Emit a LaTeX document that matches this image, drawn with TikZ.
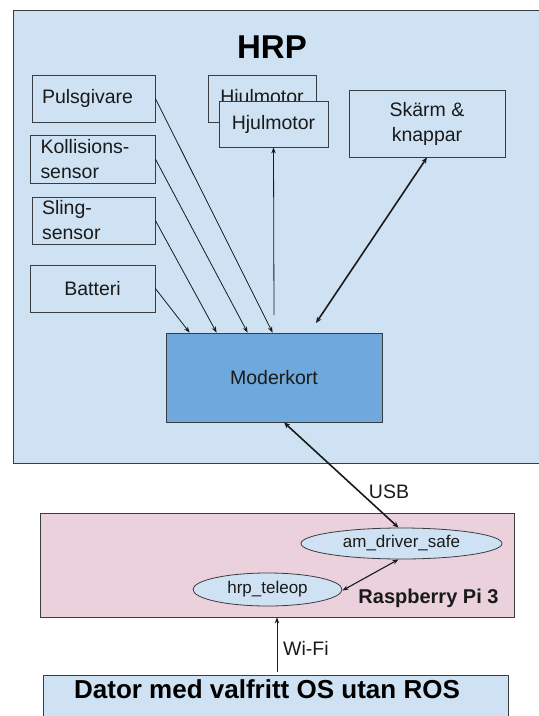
\documentclass[tikz,border=0pt]{standalone}
\usepackage{fontspec}
\setmainfont{Liberation Sans}
\usetikzlibrary{arrows.meta,shapes.geometric}

\definecolor{hrpblue}{HTML}{CFE2F3}
\definecolor{modblue}{HTML}{6FA8DC}
\definecolor{rpipink}{HTML}{EAD1DC}
\definecolor{edgegray}{HTML}{3A3D40}
\definecolor{inkdark}{HTML}{1A1A1A}

\tikzset{
  partbox/.style={draw=edgegray, fill=hrpblue, line width=0.8pt, inner ysep=0pt,
    text=inkdark, font=\fontsize{19.5}{25}\selectfont},
  leftbox/.style={partbox, align=left, inner xsep=10pt},
  midbox/.style={partbox, align=center, inner xsep=0pt},
  rosnode/.style={ellipse, draw=edgegray, fill=hrpblue, line width=0.8pt, inner sep=0pt,
    text=inkdark, font=\fontsize{17}{20}\selectfont},
  arr/.style={draw=inkdark, line width=0.8pt, -{Stealth[length=6pt,width=4.5pt]}},
  biarr/.style={draw=inkdark, line width=1.6pt, {Stealth[length=6pt,width=5pt]}-{Stealth[length=6pt,width=5pt]}},
  biarrthin/.style={draw=inkdark, line width=1.1pt, {Stealth[length=6pt,width=4.5pt]}-{Stealth[length=6pt,width=4.5pt]}},
  lbl/.style={text=inkdark, font=\fontsize{19.5}{25}\selectfont, inner sep=0pt}
}

\begin{document}
\begin{tikzpicture}[x=1pt,y=-1pt]
\clip (0,0) rectangle (539,716);
\fill[white] (0,0) rectangle (539,716);

% robot enclosure
\node[draw=edgegray, fill=hrpblue, line width=0.9pt, minimum width=540pt, minimum height=453pt,
      inner sep=0pt] (hrp) at (283,236.5) {};
\node[text=black, font=\fontsize{33}{36}\selectfont\bfseries, inner sep=0pt] (hrptitle) at (272,47) {HRP};

% sensors and actuators
\node[leftbox, text width=103pt, minimum height=47pt] (puls) at (93.5,98.5) {Pulsgivare};
\node[leftbox, text width=104pt, minimum height=48pt, inner xsep=10.5pt] (koll) at (92.5,159) {Kollisions-\\sensor};
\node[leftbox, text width=103pt, minimum height=47pt] (sling) at (93.5,220.5) {Sling-\\sensor};
\node[midbox, minimum width=125pt, minimum height=47pt] (batt) at (92.5,288.5) {Batteri};
\node[midbox, minimum width=108pt, minimum height=47pt] (hjulB) at (262,98.5) {Hjulmotor};
\node[midbox, minimum width=109pt, minimum height=46pt] (hjulF) at (273.5,124) {Hjulmotor};
\node[midbox, minimum width=156pt, minimum height=67pt] (skarm) at (427,123.5) {Skärm \&\\knappar};

% main board
\node[partbox, fill=modblue, minimum width=216pt, minimum height=89pt, inner xsep=0pt] (mod) at (274,377.5) {Moderkort};

% connections to the main board
\draw[arr] (batt.east) -- ([xshift=24pt]mod.north west);
\draw[arr] (sling.east) -- ([xshift=51pt]mod.north west);
\draw[arr] (koll.east) -- ([xshift=82pt]mod.north west);
\draw[arr] (puls.east) -- ([xshift=107pt]mod.north west);
\coordinate (hjulfoot) at (274,315);
\draw[arr] (hjulfoot) -- (hjulF.south);
\coordinate (skarmend) at (316,323);
\draw[biarr] (skarm.south) -- (skarmend);

% Raspberry Pi
\node[draw=edgegray, fill=rpipink, line width=0.8pt, minimum width=474pt, minimum height=104pt,
      inner sep=0pt] (rpi) at (277,565) {};
\node[rosnode, minimum width=201pt, minimum height=31pt] (amd) at (401.5,543.5) {am\_driver\_safe};
\node[rosnode, minimum width=149pt, minimum height=33pt] (hrpt) at (267.5,589.5) {hrp\_teleop};
\node[text=inkdark, font=\fontsize{20}{24}\selectfont\bfseries, inner sep=0pt] (rpilabel) at (428.5,598) {Raspberry Pi 3};

\draw[biarr] ([xshift=10pt]mod.south) -- ([xshift=-3pt]amd.north);
\node[lbl] (usb) at (389,492) {USB};
\draw[biarrthin] ([xshift=-3pt]amd.south) -- ([yshift=-1pt]hrpt.east);

% client computer
\node[draw=edgegray, fill=hrpblue, line width=0.9pt, minimum width=465pt, minimum height=70pt,
      inner sep=0pt] (dator) at (275.5,710) {};
\node[text=black, font=\fontsize{26}{30}\selectfont\bfseries, inner sep=0pt] (datortext) at (267,689) {Dator med valfritt OS utan ROS};

\coordinate (wifi) at (277,672);
\draw[arr] (wifi) -- (wifi |- rpi.south);
\node[lbl, anchor=west] (wifilabel) at (283,648) {Wi-Fi};
\end{tikzpicture}
\end{document}
